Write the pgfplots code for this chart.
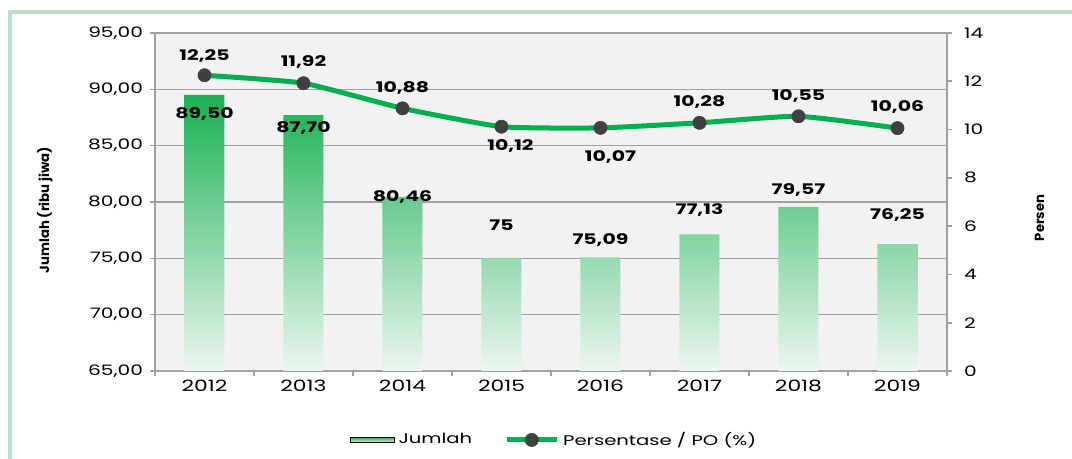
\documentclass[border=0pt]{standalone}
\usepackage{pgfplots}
\pgfplotsset{compat=1.18}
\usepackage{pgfplotstable}
\usepackage{fontspec}
\setmainfont{Poppins}[FakeStretch=1.4]
\newfontfamily\labfont{Poppins}

\definecolor{xgreen}{RGB}{0,176,80}
\definecolor{bartop}{RGB}{25,177,83}
\definecolor{barbot}{RGB}{236,246,240}
\definecolor{framegreen}{RGB}{185,223,202}
\definecolor{gridgray}{RGB}{160,160,160}
\definecolor{bggray}{RGB}{242,242,242}
\definecolor{markgray}{RGB}{64,64,64}

\pgfplotstableread{
x v lab dy
0 89.50 89,50 -9.5
1 87.70 87,70 -6.5
2 80.46 80,46 0
3 75.00 75 16.5
4 75.09 75,09 8.5
5 77.13 77,13 12
6 79.57 79,57 8.5
7 76.25 76,25 14.5
}\bars

\pgfplotstableread{
x p lab dy dx
0 12.25 12,25 9.5 0
1 11.92 11,92 10.5 0
2 10.88 10,88 10 0
3 10.12 10,12 -9.5 4.5
4 10.07 10,07 -14.5 5
5 10.28 10,28 10.5 0
6 10.55 10,55 10 0
7 10.06 10,06 10.5 0
}\pct

\begin{document}
\begin{tikzpicture}[font=\fontsize{7}{8.5}\selectfont]
\path[use as bounding box] (0,0) rectangle (536pt,-229.5pt);
\draw[framegreen, line width=2.2pt] (5pt,-229.5pt) -- (5pt,-6pt) -- (536pt,-6pt);

\begin{axis}[
  at={(77.5pt,-185.5pt)}, anchor=south west,
  width=396pt, height=169pt, scale only axis,
  xmin=-0.5, xmax=7.5, ymin=0, ymax=30,
  axis y line*=left, axis x line*=bottom,
  axis line style={gridgray, line width=0.8pt},
  axis background/.style={fill=bggray},
  ytick={0,5,...,30},
  yticklabels={{65,00},{70,00},{75,00},{80,00},{85,00},{90,00},{95,00}},
  yticklabel style={font=\fontsize{7.2}{8.5}\selectfont},
  ymajorgrids, grid style={gridgray, line width=0.8pt},
  xtick={-0.5,0.5,...,7.5}, xticklabels={},
  extra x ticks={0,...,7},
  extra x tick labels={2012,2013,2014,2015,2016,2017,2018,2019},
  extra x tick style={major tick length=0pt, xticklabel style={font=\fontsize{7.8}{9}\selectfont, yshift=-1pt}},
  tick align=outside, major tick length=2.5pt,
  tick style={gridgray, line width=0.8pt},
  ylabel={\labfont\bfseries Jumlah (ribu jiwa)},
  every axis y label/.style={at={(axis description cs:-0.139,0.476)}, rotate=90, anchor=center, font=\fontsize{6.6}{7.5}\selectfont},
  ybar, bar width=20pt,
  clip=false,
]
\addplot[draw=none, top color=bartop, bottom color=barbot,
  y filter/.expression={y-65},
  nodes near coords, point meta=explicit symbolic,
  visualization depends on={\thisrow{dy} \as \dyv},
  every node near coord/.append style={anchor=center, yshift=\dyv pt, font=\bfseries\fontsize{7.3}{8}\selectfont, black},
] table[x=x, y=v, meta=lab]{\bars};
\end{axis}

\begin{axis}[
  at={(77.5pt,-185.5pt)}, anchor=south west,
  width=396pt, height=169pt, scale only axis,
  xmin=-0.5, xmax=7.5, ymin=0, ymax=14,
  axis y line*=right, axis x line=none,
  axis line style={gridgray, line width=0.8pt},
  ytick={0,2,...,14},
  /pgf/number format/assume math mode=true,
  tick align=outside, major tick length=2.5pt,
  tick style={gridgray, line width=0.8pt},
  yticklabel style={xshift=2.5pt, font=\fontsize{7.2}{8.5}\selectfont},
  ylabel={\labfont\bfseries Persen},
  every axis y label/.style={at={(axis description cs:1.117,0.453)}, rotate=90, anchor=center, font=\fontsize{6.6}{7.5}\selectfont},
  legend columns=2,
  legend style={draw=none, fill=none, at={(0.505,-0.204)}, anchor=center,
    font=\fontsize{7}{8}\selectfont,
    /tikz/every even column/.append style={column sep=14pt}},
  clip=false,
]
\addlegendimage{legend image code/.code={\shade[top color=bartop, bottom color=barbot] (0pt,-1.4pt) rectangle (22pt,1.4pt);}}
\addlegendentry{Jumlah}
\addplot[xgreen, line width=2.5pt, smooth, tension=0.3,
  mark=*, mark size=3.3pt, mark options={fill=markgray, draw=markgray, line width=0.3pt},
  legend image code/.code={\draw[mark repeat=2, mark phase=2] plot coordinates {(0pt,0pt) (12.5pt,0pt) (25pt,0pt)};},
  nodes near coords, point meta=explicit symbolic,
  visualization depends on={\thisrow{dy} \as \dyv},
  visualization depends on={\thisrow{dx} \as \dxv},
  every node near coord/.append style={anchor=center, yshift=\dyv pt, xshift=\dxv pt, font=\bfseries\fontsize{7.3}{8}\selectfont, black},
] table[x=x, y=p, meta=lab]{\pct};
\addlegendentry{Persentase / PO (\%)}
\end{axis}
\end{tikzpicture}
\end{document}
